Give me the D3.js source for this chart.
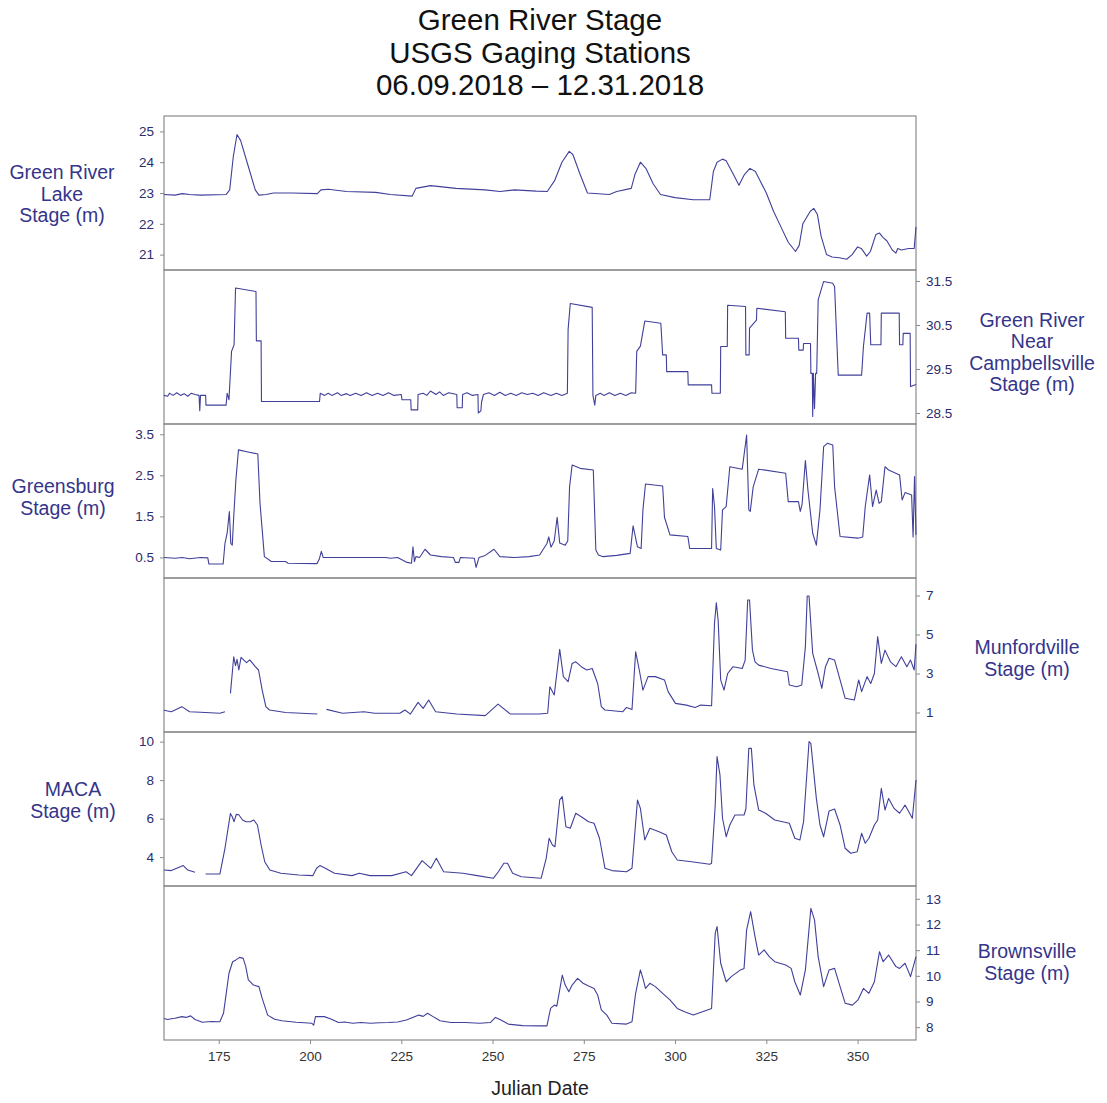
<!DOCTYPE html>
<html>
<head>
<meta charset="utf-8">
<script src="https://cdn.jsdelivr.net/npm/d3@7"></script>
<style>
  html, body { margin: 0; padding: 0; background: #fff; }
  svg { display: block; font-family: "Liberation Sans", Arial, sans-serif; }
</style>
</head>
<body>
<svg id="chart" width="1107" height="1103"></svg>
<script>
// Stage readings, [Julian day, stage in metres]; null marks a gap in the record.
const lakeStage = [[160,22.95],[163,22.93],[165,22.98],[167,22.95],[170,22.93],[177,22.95],[178,23.1],[179,24.2],[180,24.9],[181,24.7],[183,23.9],[185,23.1],[186,22.93],[188,22.95],[190,23.0],[195,23.0],[202,22.98],[203,23.1],[205,23.12],[210,23.05],[218,23.02],[222,22.95],[228,22.9],[229,23.15],[233,23.24],[240,23.15],[248,23.1],[252,23.05],[256,23.1],[262,23.06],[265,23.05],[267,23.4],[269,24.0],[271,24.35],[272,24.25],[274,23.6],[276,23.0],[282,22.95],[284,23.05],[288,23.15],[289,23.6],[290.5,24.0],[292,23.8],[294,23.3],[296,22.95],[300,22.85],[305,22.78],[309.5,22.78],[310.5,23.7],[311.5,24.0],[313,24.1],[314,24.05],[316,23.6],[317.5,23.25],[319,23.6],[320.5,23.8],[322,23.7],[325,23.0],[327,22.4],[329,21.9],[331,21.4],[333,21.1],[334,21.3],[335,22.0],[337,22.4],[338,22.5],[339,22.3],[340,21.6],[341.5,21.0],[343,20.92],[345,20.9],[347,20.85],[348.5,21.0],[350,21.25],[351,21.2],[352.5,20.95],[353.5,21.1],[355,21.65],[356,21.7],[357,21.55],[358,21.45],[359.5,21.15],[360.5,21.05],[361,21.2],[362,21.15],[364,21.2],[365.5,21.2],[366,21.9]];

const campbellsvilleStage = [[160,28.9],[161,28.88],[161.5,28.95],[162.5,28.9],[163.5,28.96],[164.5,28.9],[165.5,28.94],[166.5,28.88],[167.5,28.95],[168.5,28.92],[169.6,28.9],[169.8,28.55],[170,28.9],[171.4,28.9],[171.5,28.68],[177,28.68],[177.3,28.95],[177.8,28.8],[178.5,29.9],[179.2,30.05],[179.6,31.34],[185.2,31.26],[185.3,30.14],[186.6,30.14],[186.7,28.76],[202.6,28.76],[202.8,28.95],[204,28.9],[205,28.95],[206,28.9],[207.5,28.96],[208.5,28.9],[210,28.94],[211,28.9],[212.5,28.95],[214,28.9],[215.5,28.96],[217,28.9],[218.5,28.95],[220,28.9],[221.5,28.96],[223,28.9],[225,28.92],[225.2,28.8],[227.6,28.8],[227.7,28.57],[229.5,28.57],[229.6,28.92],[231,28.95],[232,28.9],[233,29.0],[234.5,28.92],[235.5,28.98],[236.5,28.9],[238,28.96],[240.2,28.92],[240.3,28.62],[241.7,28.62],[241.8,28.92],[243,28.96],[244.5,28.9],[246,28.92],[246.1,28.5],[246.8,28.55],[247,28.75],[247.5,28.92],[249,28.96],[250.5,28.9],[252,28.97],[253.5,28.9],[255,28.95],[256.5,28.9],[258,28.96],[259.5,28.92],[261,28.95],[262.5,28.9],[264,28.96],[266,28.9],[267.5,28.95],[269,28.9],[270.5,28.95],[270.7,30.4],[271.3,30.99],[277.3,30.9],[277.5,28.9],[278,28.68],[278.3,28.9],[279.5,28.95],[280.5,28.9],[282,28.96],[283.5,28.9],[285,28.95],[286.5,28.9],[288,28.96],[289.2,28.95],[289.5,29.9],[290.5,30.02],[291.7,30.59],[296.1,30.54],[296.6,29.82],[297.6,29.82],[297.7,29.44],[303.5,29.44],[303.6,29.14],[310,29.14],[310.1,28.95],[312.4,28.95],[312.5,30.01],[314.3,30.01],[314.4,30.95],[319.3,30.92],[319.4,29.82],[320.3,29.82],[320.4,30.43],[322.3,30.61],[322.4,30.88],[330.2,30.8],[330.3,30.2],[333.8,30.2],[333.9,29.93],[335.1,29.93],[335.2,30.08],[337.1,30.08],[337.2,29.4],[337.6,29.4],[337.7,28.42],[337.9,29.4],[338.2,28.6],[338.5,29.4],[338.8,29.4],[339.2,31.07],[340.7,31.49],[343.2,31.45],[343.7,31.37],[344.7,29.36],[351.1,29.36],[351.6,30.01],[352.6,30.77],[353.3,30.77],[353.6,30.05],[356.4,30.05],[356.5,30.77],[361.4,30.77],[361.5,30.05],[362.4,30.05],[362.5,30.31],[364.4,30.31],[364.5,29.1],[366,29.15]];

const greensburgStage = [[160,0.5],[163,0.48],[165,0.5],[167,0.47],[170,0.5],[172,0.49],[172.3,0.34],[176.2,0.34],[176.7,0.84],[177.3,1.09],[177.9,1.62],[178.3,0.84],[178.7,0.8],[179.1,1.49],[179.7,2.4],[180.4,3.12],[183,3.07],[185.7,3.02],[186.3,1.82],[187.5,0.52],[189.4,0.4],[193.3,0.4],[194,0.36],[201.9,0.35],[202.5,0.45],[203.1,0.65],[203.6,0.5],[205,0.5],[220.7,0.5],[222,0.48],[224,0.5],[226.6,0.38],[227.8,0.36],[228.2,0.76],[228.6,0.4],[229,0.52],[230,0.5],[231.5,0.7],[233,0.56],[236,0.52],[239.3,0.5],[239.8,0.38],[240.8,0.38],[241.2,0.5],[245,0.48],[245.5,0.26],[246.3,0.5],[248,0.55],[250.4,0.7],[252,0.52],[256,0.5],[260,0.52],[262.9,0.56],[264.9,0.84],[265.4,1.0],[266,0.75],[266.9,0.9],[267.7,1.48],[268.4,0.85],[269.9,0.8],[270.6,0.9],[271.1,2.22],[271.8,2.75],[274,2.67],[277.6,2.63],[278.3,0.68],[279,0.56],[280.3,0.52],[284,0.55],[287.7,0.6],[288.5,1.27],[289.7,0.76],[290.7,0.72],[291.2,1.66],[291.9,2.29],[296.6,2.24],[297.1,1.48],[298.6,1.05],[303.5,1.01],[304,0.72],[310,0.72],[310.3,2.18],[310.8,1.74],[311.3,0.72],[312.5,0.68],[313,1.66],[314,1.74],[315,2.71],[318.4,2.65],[319.6,3.48],[320.2,1.66],[320.6,1.62],[321.4,2.22],[322.9,2.65],[330.3,2.55],[331,1.86],[333.8,1.86],[334.3,1.62],[334.8,1.8],[335.7,2.86],[336.4,2.14],[337.7,1.09],[338.7,0.8],[339.7,1.66],[340.7,3.2],[341.7,3.28],[343.2,3.24],[343.7,2.22],[345.2,1.01],[350.1,0.97],[351.4,1.0],[352.1,1.74],[353.3,2.51],[354.1,1.74],[355.1,2.14],[355.9,1.82],[356.5,1.86],[357.5,2.71],[358.5,2.63],[361.5,2.51],[362.2,1.9],[363,2.08],[364.8,2.02],[365.2,1.0],[365.6,2.47],[366,1.05]];

const munfordvilleStage = [[160,1.12],[162,1.04],[164.9,1.3],[167,1.04],[170,1.01],[175.3,0.96],[176.7,1.04],null,[178.2,1.98],[179.1,3.86],[179.6,3.4],[180,3.73],[180.5,3.18],[181.1,3.83],[182.6,3.56],[183.5,3.7],[185,3.35],[185.9,3.18],[186.9,2.15],[187.9,1.3],[188.9,1.13],[193.3,1.0],[202,0.92],null,[204.5,1.16],[208.9,0.96],[214.8,1.04],[217.7,0.96],[224.6,0.96],[226,1.13],[227.5,0.92],[229.6,1.52],[231,1.21],[232.5,1.64],[234.4,1.04],[240.2,0.92],[248,0.84],[251.5,1.43],[254.9,0.92],[262.7,0.92],[265.1,0.96],[265.7,2.32],[266.9,1.9],[268.4,4.24],[269.4,2.84],[270.7,2.58],[271.8,3.52],[272.8,3.6],[274.3,3.35],[275.8,3.18],[277.3,3.26],[278.8,2.49],[279.8,1.3],[280.8,1.13],[285.7,1.04],[286.7,1.26],[288.2,1.15],[289.2,4.12],[290.2,3.18],[291.2,2.15],[292.6,2.84],[294.6,2.84],[297.1,2.67],[298.1,2.07],[300.1,1.47],[303.1,1.38],[305.5,1.26],[307,1.38],[310,1.35],[310.8,5.57],[311.3,6.63],[311.8,5.74],[312.5,2.67],[313.4,2.15],[314.4,3.0],[315.9,3.35],[318.4,3.26],[319.2,3.69],[319.9,6.77],[320.4,6.77],[321.2,4.2],[321.9,3.6],[322.9,3.43],[326.3,3.26],[330.8,3.09],[331.3,2.41],[333.3,2.32],[334.7,2.41],[335.7,4.38],[336.2,6.98],[336.7,6.98],[337.7,4.03],[339.2,3.0],[340.2,2.24],[341.2,3.35],[342.2,3.78],[343.7,3.69],[345.2,2.67],[346.6,1.73],[349.1,1.64],[350.3,2.67],[351.1,2.07],[352.6,2.84],[353.6,2.49],[354.6,3.0],[355.5,4.89],[356.5,3.52],[357.5,4.2],[359,3.6],[360.5,3.35],[362,3.86],[363.5,3.35],[364.5,3.69],[365.5,3.18],[366,4.5]];

const macaStage = [[160,3.33],[162,3.3],[163,3.38],[165.3,3.56],[166.5,3.33],[168.5,3.21],null,[171.4,3.12],[175.3,3.12],[176.7,4.46],[178.2,6.27],[178.7,6.1],[179.2,5.84],[179.8,6.22],[180.5,6.2],[181.5,5.93],[182.5,5.84],[183.6,5.84],[184.6,5.93],[185.6,5.67],[186.6,4.63],[187.6,3.76],[189,3.33],[192,3.16],[196.9,3.07],[200.8,3.04],[201.8,3.42],[202.7,3.56],[204.2,3.42],[206.7,3.16],[211.5,3.04],[213.5,3.16],[216.4,3.04],[222.4,3.04],[226.3,3.24],[227.8,3.04],[230.7,3.82],[233.1,3.42],[234.6,3.94],[236.6,3.24],[241.9,3.16],[245.8,3.04],[250.2,2.9],[251.6,3.24],[253.1,3.68],[254.1,3.68],[255.5,3.16],[257.9,2.98],[263.3,2.9],[264.7,3.94],[265.5,4.98],[266.4,4.63],[267.1,4.54],[268.4,6.97],[269.1,7.14],[270.1,5.58],[271.3,5.5],[272.8,6.28],[274.3,6.1],[276.3,5.84],[277.8,5.76],[279.3,4.98],[280.8,3.42],[282.7,3.3],[286.7,3.24],[288.2,3.42],[289.7,6.97],[290.5,6.53],[291.7,4.89],[293.1,5.5],[295.6,5.32],[297.6,5.15],[299.1,4.28],[300.6,3.85],[304.5,3.76],[309.5,3.63],[310,3.68],[311,6.71],[311.5,9.22],[312.3,8.27],[313,6.02],[314,5.06],[315,5.67],[316.4,6.19],[318.9,6.19],[319.4,6.5],[320.2,9.65],[320.9,9.65],[321.6,7.75],[322.9,6.45],[324.8,6.28],[327.3,5.93],[331.3,5.76],[332.8,4.98],[334.2,4.89],[335.2,5.84],[336.7,10.0],[337.2,9.91],[338.7,7.05],[339.7,5.67],[340.7,5.06],[342.2,6.4],[343.7,6.5],[345.2,5.67],[346.6,4.46],[348.1,4.2],[349.9,4.28],[351.1,5.24],[352.1,4.72],[353.1,4.98],[354.6,5.67],[355.5,5.93],[356.5,7.57],[357.5,6.45],[358.5,7.05],[360,6.53],[361.5,6.28],[363,6.71],[365,6.02],[366,8.01]];

const brownsvilleStage = [[160,8.34],[161,8.3],[162,8.33],[163,8.35],[164.9,8.41],[166,8.38],[167.3,8.44],[168.5,8.3],[170.5,8.19],[173,8.22],[175.3,8.21],[176.3,8.54],[177.8,10.1],[178.8,10.55],[179.7,10.62],[180.7,10.72],[181.7,10.68],[182.4,10.36],[183.1,9.84],[184.5,9.64],[186,9.58],[186.9,9.12],[188.4,8.47],[190.3,8.31],[192.3,8.25],[196.2,8.19],[200.5,8.15],[201,8.08],[201.5,8.41],[203.9,8.41],[205.9,8.31],[207.8,8.18],[209.5,8.2],[211.7,8.15],[214,8.18],[216.6,8.15],[219,8.17],[221.5,8.18],[224,8.2],[226.4,8.28],[229.8,8.47],[231,8.42],[232.2,8.54],[233.6,8.42],[235.6,8.25],[238.6,8.18],[242.5,8.18],[246.5,8.15],[249.4,8.18],[250.8,8.38],[252.3,8.28],[254.3,8.12],[258.2,8.06],[263.1,8.05],[264.9,8.05],[265.9,8.73],[266.9,8.86],[267.6,8.82],[268.4,9.45],[269.1,10.03],[269.9,9.64],[270.9,9.38],[271.8,9.64],[273.3,9.9],[274.8,9.71],[276.3,9.6],[277.8,9.51],[278.8,9.25],[279.8,8.67],[281.3,8.47],[282.7,8.15],[286.7,8.12],[288.2,8.21],[289.2,9.32],[290.5,10.23],[291.2,9.9],[291.9,9.51],[293.1,9.71],[294.6,9.58],[296.6,9.32],[298.6,9.06],[300.6,8.73],[302.6,8.6],[305,8.47],[307.5,8.6],[310,8.73],[311,11.66],[311.5,11.92],[312.5,10.49],[314,9.77],[315.4,9.97],[317.9,10.23],[318.9,10.29],[319.6,11.79],[320.7,12.5],[321.9,11.53],[322.9,10.81],[324.4,11.01],[325.8,10.75],[327.3,10.55],[330.3,10.42],[331.8,10.29],[332.8,9.77],[334.3,9.25],[335.7,10.23],[337.2,12.63],[338.2,12.18],[339.2,10.75],[340.7,9.58],[342.2,10.23],[343.7,10.29],[345.2,9.58],[346.6,8.93],[348.6,8.86],[350.1,9.06],[351.6,9.51],[353.1,9.32],[354.6,9.77],[356,10.94],[357,10.55],[358.5,10.81],[360.5,10.36],[361.5,10.29],[363,10.49],[364.5,9.97],[366,10.75]];

// Axis tick values
const dayTicks = [175, 200, 225, 250, 275, 300, 325, 350];
const lakeTicks = [21, 22, 23, 24, 25];
const campbellsvilleTicks = [28.5, 29.5, 30.5, 31.5];
const greensburgTicks = [0.5, 1.5, 2.5, 3.5];
const munfordvilleTicks = [1, 3, 5, 7];
const macaTicks = [4, 6, 8, 10];
const brownsvilleTicks = [8, 9, 10, 11, 12, 13];

const titleLines = ["Green River Stage", "USGS Gaging Stations", "06.09.2018 \u2013 12.31.2018"];

// Layout
const plotLeft = 164, plotRight = 916, plotTop = 116, panelH = 154;
const lineColor = "#40409a", labelColor = "#35358a", frameColor = "#8a8a8a";

const panels = [
  { data: lakeStage, domain: [20.5, 25.5], ticks: lakeTicks, side: "left",
    label: ["Green River", "Lake", "Stage (m)"], lx: 62, ly: 194 },
  { data: campbellsvilleStage, domain: [28.25, 31.75], ticks: campbellsvilleTicks, side: "right",
    label: ["Green River", "Near", "Campbellsville", "Stage (m)"], lx: 1032, ly: 352 },
  { data: greensburgStage, domain: [0, 3.75], ticks: greensburgTicks, side: "left",
    label: ["Greensburg", "Stage (m)"], lx: 63, ly: 497 },
  { data: munfordvilleStage, domain: [0, 7.9], ticks: munfordvilleTicks, side: "right",
    label: ["Munfordville", "Stage (m)"], lx: 1027, ly: 658 },
  { data: macaStage, domain: [2.5, 10.5], ticks: macaTicks, side: "left",
    label: ["MACA", "Stage (m)"], lx: 73, ly: 800 },
  { data: brownsvilleStage, domain: [7.5, 13.5], ticks: brownsvilleTicks, side: "right",
    label: ["Brownsville", "Stage (m)"], lx: 1027, ly: 962 }
];

const svg = d3.select("#chart");

// Title
svg.append("g").selectAll("text").data(titleLines).join("text")
  .attr("x", 540).attr("y", (d, i) => 20 + i * 32.5)
  .attr("dy", "0.35em").attr("text-anchor", "middle")
  .attr("font-size", 29.5).attr("fill", "#111").text(d => d);

const x = d3.scaleLinear().domain([160, 366]).range([plotLeft, plotRight]);

panels.forEach((p, i) => {
  const top = plotTop + i * panelH, bottom = top + panelH;
  const y = d3.scaleLinear().domain(p.domain).range([bottom, top]);
  const g = svg.append("g");

  // frame
  g.append("rect").attr("x", plotLeft).attr("y", top)
    .attr("width", plotRight - plotLeft).attr("height", panelH)
    .attr("fill", "none").attr("stroke", frameColor).attr("stroke-width", 1.2);

  // y axis on the panel's own side
  const axis = (p.side === "left" ? d3.axisLeft(y) : d3.axisRight(y))
    .tickValues(p.ticks).tickSize(4).tickPadding(6).tickFormat(d3.format("~g"));
  const ag = g.append("g")
    .attr("transform", `translate(${p.side === "left" ? plotLeft : plotRight},0)`)
    .call(axis);
  ag.select(".domain").remove();
  ag.selectAll(".tick line").attr("stroke", frameColor);
  ag.selectAll(".tick text").attr("fill", "#2c2c6e").attr("font-size", 13.5)
    .attr("font-family", "Liberation Sans, Arial, sans-serif");

  // stage trace
  const line = d3.line().defined(d => d !== null)
    .x(d => x(d[0])).y(d => y(d[1]));
  g.append("path").datum(p.data).attr("d", line)
    .attr("fill", "none").attr("stroke", lineColor).attr("stroke-width", 1.1)
    .attr("stroke-linejoin", "round");

  // station label
  const n = p.label.length;
  g.append("g").selectAll("text").data(p.label).join("text")
    .attr("x", p.lx).attr("y", (d, k) => p.ly + (k - (n - 1) / 2) * 21.5)
    .attr("dy", "0.35em").attr("text-anchor", "middle")
    .attr("font-size", 19.5).attr("fill", labelColor).text(d => d);
});

// Shared date axis along the bottom
const bottomY = plotTop + panels.length * panelH;
const xg = svg.append("g").attr("transform", `translate(0,${bottomY})`)
  .call(d3.axisBottom(x).tickValues(dayTicks).tickSize(4).tickPadding(7));
xg.select(".domain").remove();
xg.selectAll(".tick line").attr("stroke", frameColor);
xg.selectAll(".tick text").attr("fill", "#333").attr("font-size", 13.5)
  .attr("font-family", "Liberation Sans, Arial, sans-serif");

svg.append("text").attr("x", 540).attr("y", 1088).attr("dy", "0.35em")
  .attr("text-anchor", "middle").attr("font-size", 19.5).attr("fill", "#222")
  .text("Julian Date");
</script>
</body>
</html>
